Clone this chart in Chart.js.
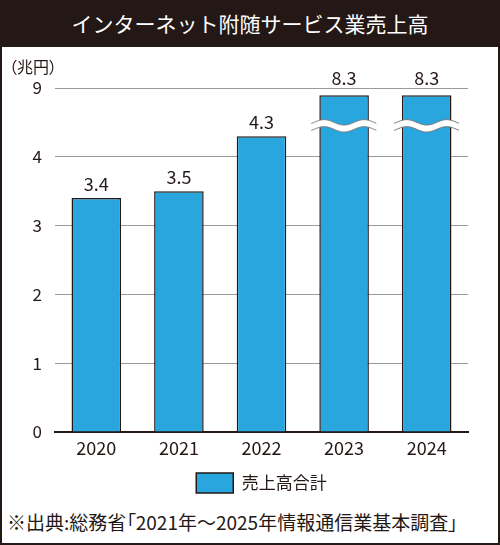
<!DOCTYPE html>
<html>
<head>
<meta charset="utf-8">
<script src="https://cdn.jsdelivr.net/npm/chart.js@4/dist/chart.umd.min.js"></script>
<style>
  body { margin: 0; background: #fff; }
  #wrap { position: relative; width: 500px; height: 545px; background: #fff; overflow: hidden;
          font-family: "Noto Sans CJK JP", "Noto Sans", sans-serif; color: #231815; }
  #head { position: absolute; left: 0; top: 0; width: 500px; height: 47px; background: #231815;
          color: #fff; font-size: 21px; line-height: 47px; text-align: center; }
  #unit { position: absolute; left: 9px; top: 54px; font-size: 16px; font-feature-settings: "palt"; }
  #note { position: absolute; left: 7px; top: 508px; font-size: 19px; font-feature-settings: "palt"; white-space: nowrap; }
  #chart { position: absolute; left: 0; top: 47px; }
  #frame { position: absolute; left: 0; top: 0; width: 500px; height: 545px; box-sizing: border-box;
           border: 2px solid #231815; pointer-events: none; }
</style>
</head>
<body>
<div id="wrap">
  <div id="head">インターネット附随サービス業売上高</div>
  <canvas id="chart" width="500" height="456"></canvas>
  <div id="unit">（兆円）</div>
  <div id="note">※出典:総務省「2021年〜2025年情報通信業基本調査」</div>
  <div id="frame"></div>
</div>
<script>
// data (兆円)
const years = ['2020', '2021', '2022', '2023', '2024'];
const sales = [3.4, 3.5, 4.3, 8.3, 8.3];
const seriesName = '売上高合計';
const yTicks = [0, 1, 2, 3, 4, 9];

// broken axis: linear up to breakStart, compressed above so that 9 sits at the 5th step
const breakStart = 4.3;
const axisTop = 9;
const brokenAbove = 5;
function toAxis(v) {
  if (v <= breakStart) return v;
  return breakStart + (v - breakStart) * (5 - breakStart) / (axisTop - breakStart);
}

const ink = '#231815';
const barBlue = '#29a6de';

const valueLabels = {
  id: 'valueLabels',
  afterDatasetsDraw(chart) {
    const ctx = chart.ctx;
    const meta = chart.getDatasetMeta(0);
    const top = chart.chartArea.top;
    ctx.save();
    ctx.font = '18px "Noto Sans CJK JP", sans-serif';
    ctx.fillStyle = ink;
    ctx.textAlign = 'center';
    ctx.textBaseline = 'alphabetic';
    meta.data.forEach((bar, i) => {
      const y = sales[i] > brokenAbove ? top - 3 : bar.y - 7;
      ctx.fillText(sales[i].toFixed(1), bar.x, y);
    });
    ctx.restore();
  }
};

const barBreaks = {
  id: 'barBreaks',
  afterDatasetsDraw(chart) {
    const ctx = chart.ctx;
    const meta = chart.getDatasetMeta(0);
    const y0 = chart.scales.y.getPixelForValue(4.45);
    ctx.save();
    meta.data.forEach((bar, i) => {
      if (sales[i] <= brokenAbove) return;
      const half = bar.width / 2 + 8;
      const xc = bar.x;
      const amp = 2.7, period = 40, gap = 7;
      const wave = (x, off) => y0 + off + amp * Math.cos(2 * Math.PI * (x - xc) / period);
      ctx.beginPath();
      for (let x = xc - half; x <= xc + half; x += 1) {
        const y = wave(x, -gap / 2);
        if (x === xc - half) ctx.moveTo(x, y); else ctx.lineTo(x, y);
      }
      for (let x = xc + half; x >= xc - half; x -= 1) ctx.lineTo(x, wave(x, gap / 2));
      ctx.closePath();
      ctx.fillStyle = '#fff';
      ctx.fill();
      ctx.strokeStyle = '#7a7a7a';
      ctx.lineWidth = 1;
      [-gap / 2, gap / 2].forEach(off => {
        ctx.beginPath();
        for (let x = xc - half; x <= xc + half; x += 1) {
          const y = wave(x, off);
          if (x === xc - half) ctx.moveTo(x, y); else ctx.lineTo(x, y);
        }
        ctx.stroke();
      });
    });
    ctx.restore();
  }
};

new Chart(document.getElementById('chart'), {
  type: 'bar',
  data: {
    labels: years,
    datasets: [{
      label: seriesName,
      data: sales.map(toAxis),
      backgroundColor: barBlue,
      borderColor: ink,
      borderWidth: 1.5,
      barPercentage: 0.6,
      categoryPercentage: 1
    }]
  },
  options: {
    responsive: false,
    animation: false,
    devicePixelRatio: 1,
    layout: { padding: { top: 41, right: 32, left: 0, bottom: 0 } },
    plugins: {
      tooltip: { enabled: false },
      legend: {
        position: 'bottom',
        fullSize: false,
        onClick: null,
        labels: {
          boxWidth: 37,
          boxHeight: 20,
          padding: 10,
          color: ink,
          font: { family: '"Noto Sans CJK JP", sans-serif', size: 17 }
        }
      }
    },
    scales: {
      x: {
        afterFit: s => { s.height = 31; },
        grid: { display: false, drawTicks: false },
        border: { display: true, color: ink, width: 2 },
        ticks: {
          color: ink,
          padding: 5,
          font: { family: '"Noto Sans CJK JP", sans-serif', size: 18 }
        }
      },
      y: {
        min: 0,
        max: 5,
        afterFit: s => { s.width = 55; },
        afterBuildTicks: s => { s.ticks = yTicks.map(t => ({ value: toAxis(t) })); },
        border: { display: false },
        grid: { color: '#9a9a9a', lineWidth: 1, drawTicks: false },
        ticks: {
          color: ink,
          padding: 13,
          font: { family: '"Noto Sans CJK JP", sans-serif', size: 17 },
          callback: (v, i) => String(yTicks[i])
        }
      }
    }
  },
  plugins: [valueLabels, barBreaks]
});
</script>
</body>
</html>
